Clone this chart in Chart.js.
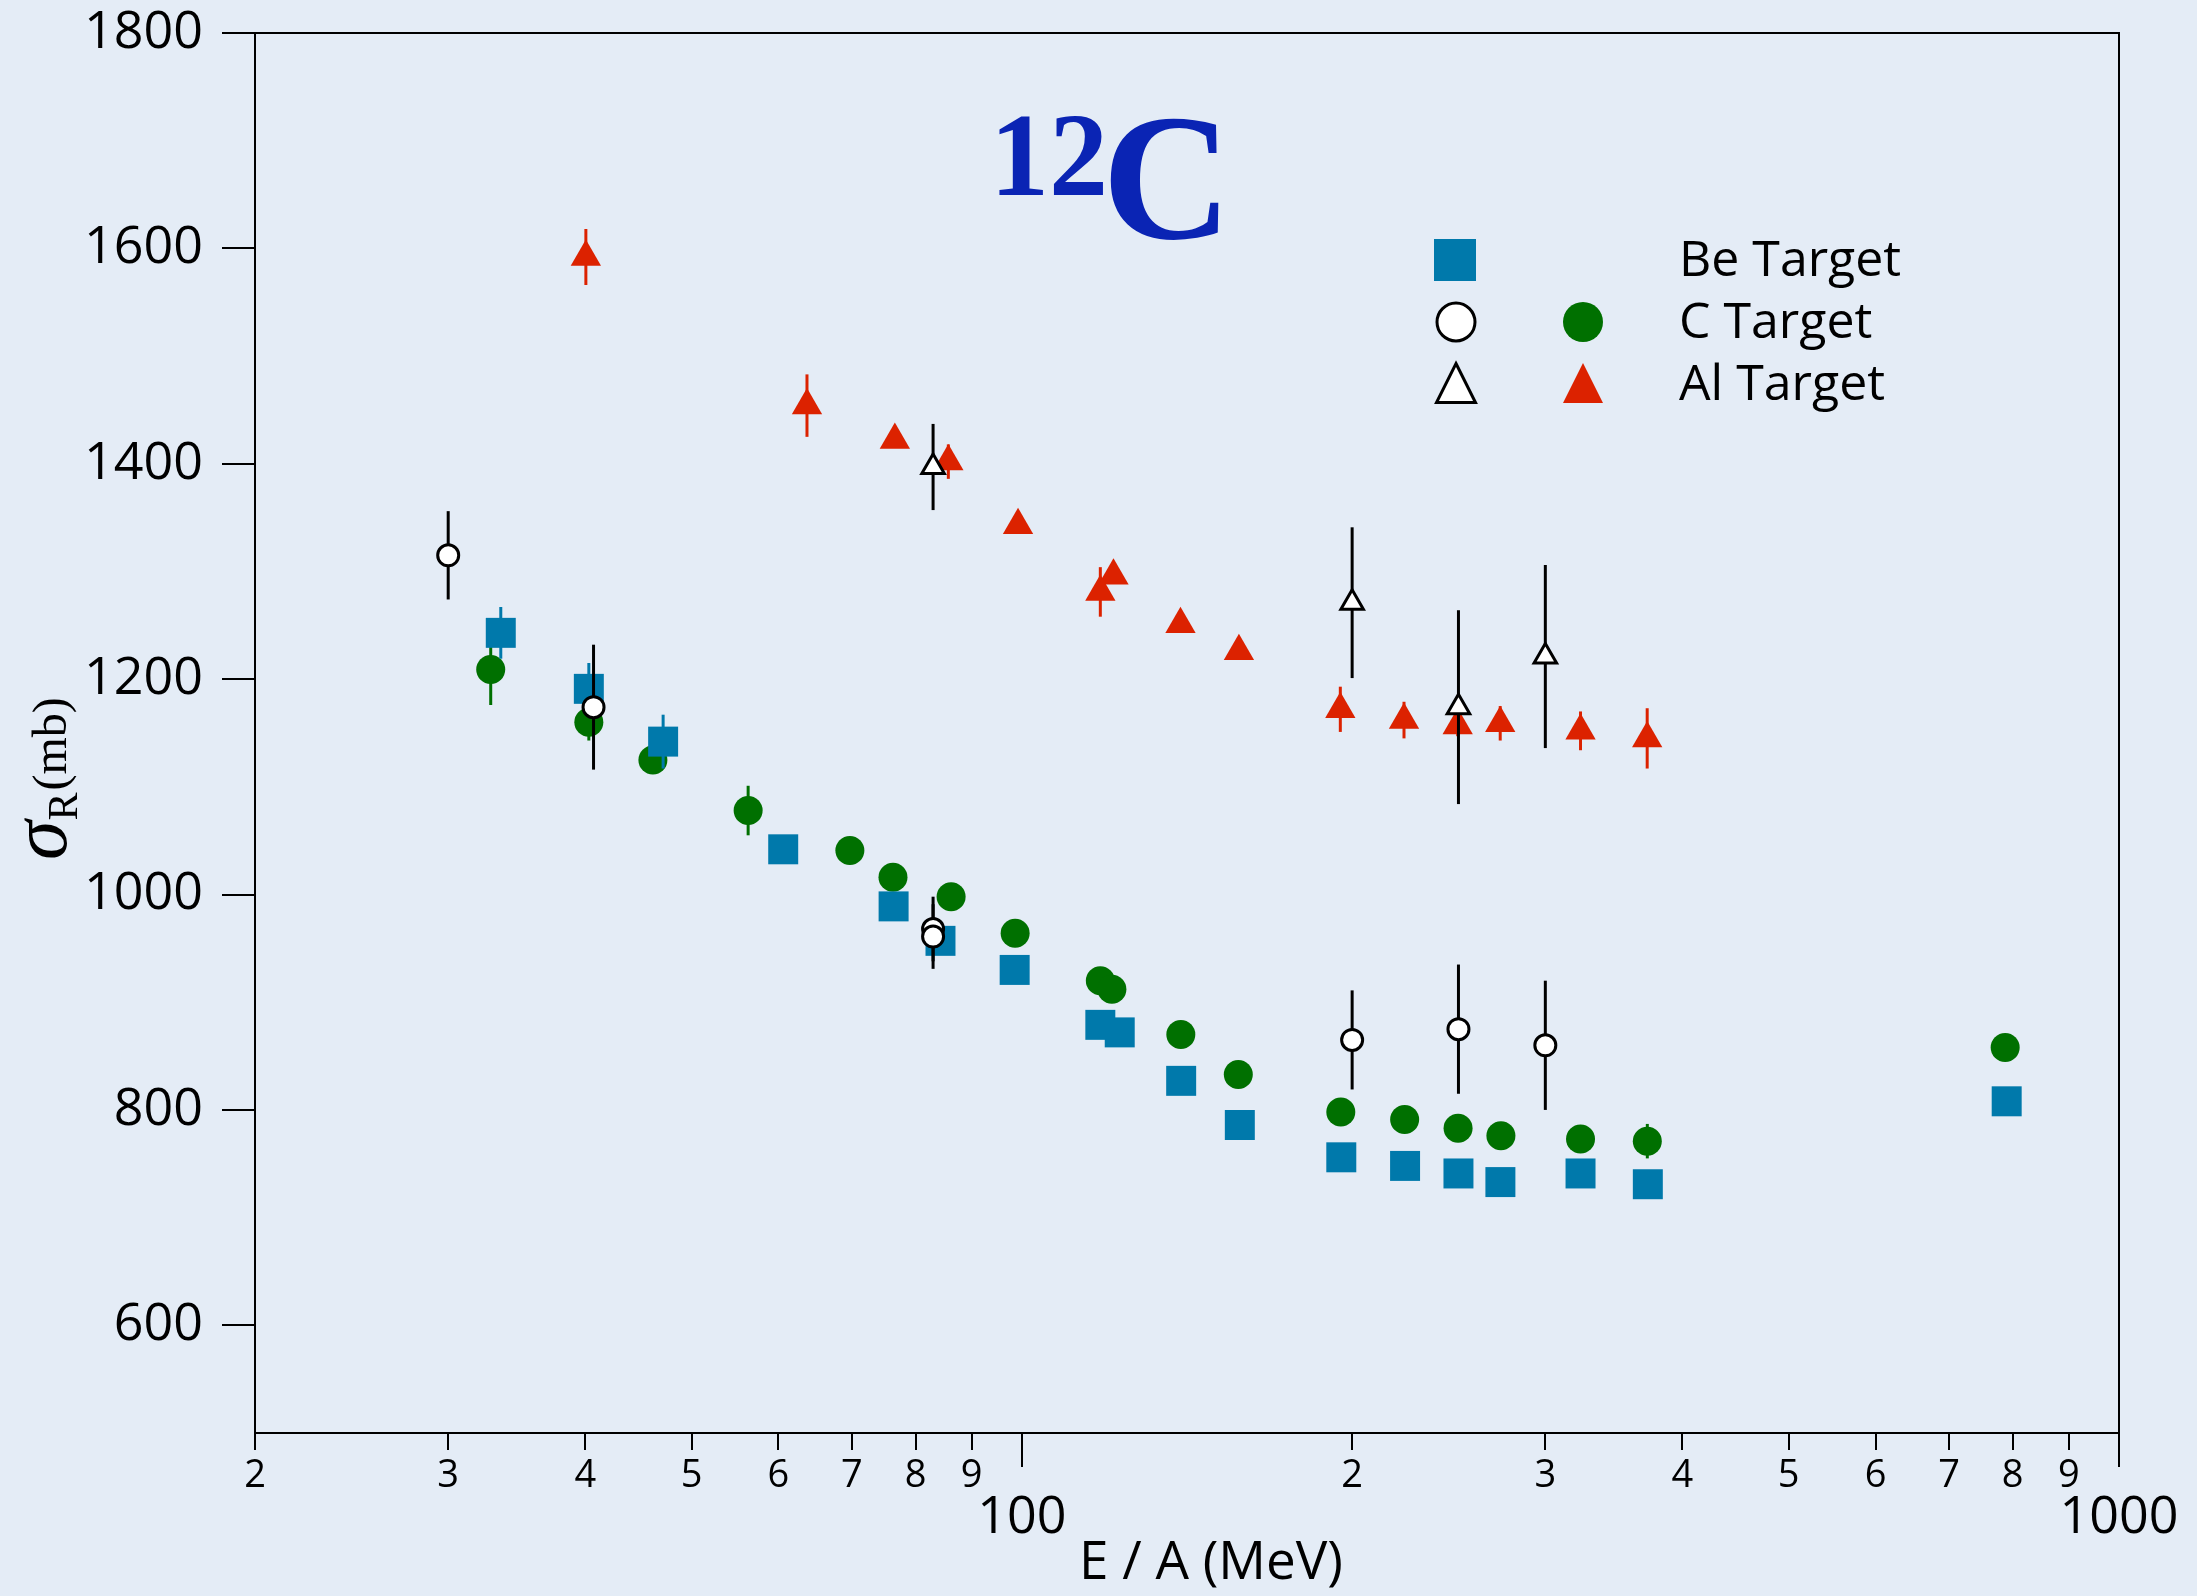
<!DOCTYPE html>
<html>
<head>
<meta charset="utf-8">
<title>12C reaction cross section</title>
<script src="https://cdn.jsdelivr.net/npm/chart.js@4.4.0/dist/chart.umd.min.js"></script>
<style>
  html, body { margin: 0; padding: 0; background: #e4ecf6; }
  canvas { display: block; }
</style>
</head>
<body>
<canvas id="myChart" width="2197" height="1596"></canvas>
<script>
// Be target (filled squares)
const beEnergy = [33.5, 40.3, 47.1, 60.6, 76.4, 84.3, 98.5, 117.9, 122.8, 139.7, 158, 195.5, 223.5, 250, 273, 323, 372, 790];
const beSigma = [1243, 1191, 1142, 1042, 989, 957, 930, 879, 872, 827, 786, 756, 748, 741, 733, 741, 731, 808];
const beError = [24, 24, 25, 8, 4, 4, 4, 4, 4, 4, 4, 4, 4, 4, 4, 4, 4, 4];

// C target (filled circles)
const cEnergy = [32.8, 40.3, 46.1, 56.3, 69.7, 76.3, 86.2, 98.6, 117.9, 120.8, 139.6, 157.5, 195.3, 223.3, 249.8, 273.3, 323, 371.6, 787.5];
const cSigma = [1209, 1160, 1125, 1078, 1041, 1016, 998, 964, 920, 912, 870, 833, 798, 791, 783, 776, 773, 771, 858];
const cError = [33, 17, 8, 23, 6, 6, 6, 6, 6, 6, 6, 6, 6, 6, 6, 6, 6, 16, 6];

// C target, other measurements (open circles)
const cOpenEnergy = [30, 40.7, 83, 83, 200, 250, 300];
const cOpenSigma = [1315, 1174, 968, 961, 865, 875, 860];
const cOpenError = [41, 58, 30, 30, 46, 60, 60];

// Al target (filled triangles)
const alEnergy = [40.05, 63.7, 76.6, 85.7, 99.2, 117.9, 121.2, 139.5, 157.7, 195.1, 223, 249.6, 272.9, 323, 371.5];
const alSigma = [1592, 1454, 1422, 1402, 1343, 1281, 1296, 1251, 1226, 1172, 1162, 1157, 1159, 1152, 1145];
const alError = [26, 29, 5, 16, 6, 23, 4, 4, 4, 21, 17, 10, 16, 18, 28];

// Al target, other measurements (open triangles)
const alOpenEnergy = [83, 200, 250, 300];
const alOpenSigma = [1397, 1271, 1174, 1221];
const alOpenError = [40, 70, 90, 85];

const xTicks = [20, 30, 40, 50, 60, 70, 80, 90, 100, 200, 300, 400, 500, 600, 700, 800, 900, 1000];
const xTickLabels = ["2", "3", "4", "5", "6", "7", "8", "9", "100", "2", "3", "4", "5", "6", "7", "8", "9", "1000"];
const xMajor = [100, 1000];
const yTicks = [600, 800, 1000, 1200, 1400, 1600, 1800];

const legendLabels = ["Be Target", "C Target", "Al Target"];
const titleMass = "12";
const titleElement = "C";
const xTitle = "E / A (MeV)";

const bgColor = "#e4ecf6";
const beColor = "#0079ab";
const cColor = "#007000";
const alColor = "#dc2200";
const titleColor = "#0a24b4";
const sans = '"Open Sans", "Noto Sans", sans-serif';
const serif = '"Liberation Serif", "DejaVu Serif", serif';

function toPoints(xs, ys) {
  return xs.map((x, i) => ({ x: x, y: ys[i] }));
}

// маркер для легенды
function drawMarker(ctx, style, x, y, size, fill, stroke) {
  ctx.save();
  ctx.beginPath();
  if (style === "rect") {
    ctx.rect(x - size / 2, y - size / 2, size, size);
  } else if (style === "circle") {
    ctx.arc(x, y, size / 2, 0, Math.PI * 2);
  } else {
    ctx.moveTo(x, y - size / 2);
    ctx.lineTo(x + size / 2, y + size / 2);
    ctx.lineTo(x - size / 2, y + size / 2);
    ctx.closePath();
  }
  ctx.fillStyle = fill;
  ctx.fill();
  if (stroke) {
    ctx.lineWidth = 3;
    ctx.strokeStyle = stroke;
    ctx.stroke();
  }
  ctx.restore();
}

const extras = {
  id: "extras",
  beforeDraw(chart) {
    const ctx = chart.ctx;
    ctx.save();
    ctx.fillStyle = bgColor;
    ctx.fillRect(0, 0, chart.width, chart.height);
    ctx.restore();
  },
  beforeDatasetDraw(chart, args) {
    // error bars, drawn just under their own markers
    const ds = chart.data.datasets[args.index];
    if (!ds.errors) return;
    const ctx = chart.ctx;
    const xs = chart.scales.x;
    const ys = chart.scales.y;
    ctx.save();
    ctx.strokeStyle = ds.errorColor;
    ctx.lineWidth = 3;
    ds.data.forEach((p, i) => {
      const e = ds.errors[i];
      if (!e) return;
      const px = xs.getPixelForValue(p.x);
      ctx.beginPath();
      ctx.moveTo(px, ys.getPixelForValue(p.y + e));
      ctx.lineTo(px, ys.getPixelForValue(p.y - e));
      ctx.stroke();
    });
    ctx.restore();
  },
  afterDraw(chart) {
    const ctx = chart.ctx;
    const a = chart.chartArea;
    const xs = chart.scales.x;

    ctx.save();
    ctx.strokeStyle = "#000";
    ctx.lineWidth = 2;
    ctx.strokeRect(a.left, a.top, a.right - a.left, a.bottom - a.top);

    // длинные метки на 100 и 1000
    xMajor.forEach((v) => {
      const px = Math.round(xs.getPixelForValue(v));
      ctx.beginPath();
      ctx.moveTo(px, a.bottom);
      ctx.lineTo(px, a.bottom + 34);
      ctx.stroke();
    });

    // x title
    ctx.fillStyle = "#000";
    ctx.font = "53px " + sans;
    ctx.textAlign = "center";
    ctx.textBaseline = "middle";
    ctx.fillText(xTitle, 1211, 1564);

    // y title: sigma_R (mb)
    ctx.save();
    ctx.translate(66, 860);
    ctx.rotate(-Math.PI / 2);
    ctx.textAlign = "left";
    ctx.textBaseline = "alphabetic";
    ctx.font = "italic 80px " + serif;
    ctx.fillText("σ", 0, 0);
    let pos = ctx.measureText("σ").width;
    ctx.font = "42px " + serif;
    ctx.fillText("R", pos, 11);
    pos += ctx.measureText("R").width;
    ctx.font = "48px " + serif;
    ctx.fillText("(mb)", pos + 2, 0);
    ctx.restore();

    // title 12C
    ctx.fillStyle = titleColor;
    ctx.textAlign = "left";
    ctx.textBaseline = "alphabetic";
    ctx.font = "bold 118px " + serif;
    ctx.fillText(titleMass, 990, 195);
    ctx.font = "bold 180px " + serif;
    ctx.fillText(titleElement, 1102, 238);

    // legend
    drawMarker(ctx, "rect", 1455, 260, 42, beColor);
    drawMarker(ctx, "circle", 1456, 322, 38, "#fff", "#000");
    drawMarker(ctx, "circle", 1583, 322, 40, cColor);
    drawMarker(ctx, "triangle", 1456, 383, 39, "#fff", "#000");
    drawMarker(ctx, "triangle", 1583, 383, 40, alColor);
    ctx.fillStyle = "#000";
    ctx.font = "50px " + sans;
    ctx.textBaseline = "middle";
    ctx.fillText(legendLabels[0], 1679, 262);
    ctx.fillText(legendLabels[1], 1679, 324);
    ctx.fillText(legendLabels[2], 1679, 386);
    ctx.restore();
  },
};

Chart.defaults.font.family = sans;
Chart.defaults.color = "#000";

const ctx = document.getElementById("myChart").getContext("2d");
const myChart = new Chart(ctx, {
  type: "scatter",
  data: {
    datasets: [
      {
        label: "C Target",
        data: toPoints(cEnergy, cSigma),
        errors: cError,
        errorColor: cColor,
        pointStyle: "circle",
        pointRadius: 14.5,
        backgroundColor: cColor,
        borderWidth: 0,
        order: 4,
      },
      {
        label: "Be Target",
        data: toPoints(beEnergy, beSigma),
        errors: beError,
        errorColor: beColor,
        pointStyle: "rect",
        pointRadius: 21.2,
        backgroundColor: beColor,
        borderWidth: 0,
        order: 3,
      },
      {
        label: "Al Target",
        data: toPoints(alEnergy, alSigma),
        errors: alError,
        errorColor: alColor,
        pointStyle: "triangle",
        pointRadius: 17.5,
        backgroundColor: alColor,
        borderWidth: 0,
        order: 2,
      },
      {
        label: "C Target (open)",
        data: toPoints(cOpenEnergy, cOpenSigma),
        errors: cOpenError,
        errorColor: "#000",
        pointStyle: "circle",
        pointRadius: 10.5,
        backgroundColor: "#fff",
        borderColor: "#000",
        borderWidth: 3,
        order: 1,
      },
      {
        label: "Al Target (open)",
        data: toPoints(alOpenEnergy, alOpenSigma),
        errors: alOpenError,
        errorColor: "#000",
        pointStyle: "triangle",
        pointRadius: 13,
        backgroundColor: "#fff",
        borderColor: "#000",
        borderWidth: 3,
        order: 0,
      },
    ],
  },
  options: {
    responsive: false,
    animation: false,
    devicePixelRatio: 1,
    layout: { padding: { top: 33, right: 78, left: 0, bottom: 0 } },
    scales: {
      x: {
        type: "logarithmic",
        min: 20,
        max: 1000,
        afterBuildTicks: (s) => {
          s.ticks = xTicks.map((v) => ({ value: v }));
        },
        afterFit: (s) => {
          s.height = 163;
        },
        grid: {
          drawOnChartArea: false,
          color: "#000",
          lineWidth: 2,
          tickLength: 17,
        },
        border: { color: "#000", width: 2 },
        ticks: {
          autoSkip: false,
          maxRotation: 0,
          padding: 3,
          color: "#000",
          font: (c) =>
            c.tick && xMajor.includes(c.tick.value)
              ? { size: 52, lineHeight: 0.83 }
              : { size: 38, lineHeight: 1.2 },
          callback: (value, index) =>
            xMajor.includes(xTicks[index])
              ? ["", xTickLabels[index]]
              : xTickLabels[index],
        },
      },
      y: {
        min: 500,
        max: 1800,
        afterBuildTicks: (s) => {
          s.ticks = yTicks.map((v) => ({ value: v }));
        },
        afterFit: (s) => {
          s.width = 255;
          // верхний отступ задаём сами через layout.padding
          s.paddingTop = 0;
          s.paddingBottom = 0;
        },
        grid: {
          drawOnChartArea: false,
          color: "#000",
          lineWidth: 2,
          tickLength: 33,
        },
        border: { color: "#000", width: 2 },
        ticks: {
          padding: 19,
          color: "#000",
          font: { size: 52 },
          callback: (v) => String(v),
        },
      },
    },
    plugins: {
      legend: { display: false },
      tooltip: { enabled: false },
    },
  },
  plugins: [extras],
});
</script>
</body>
</html>
